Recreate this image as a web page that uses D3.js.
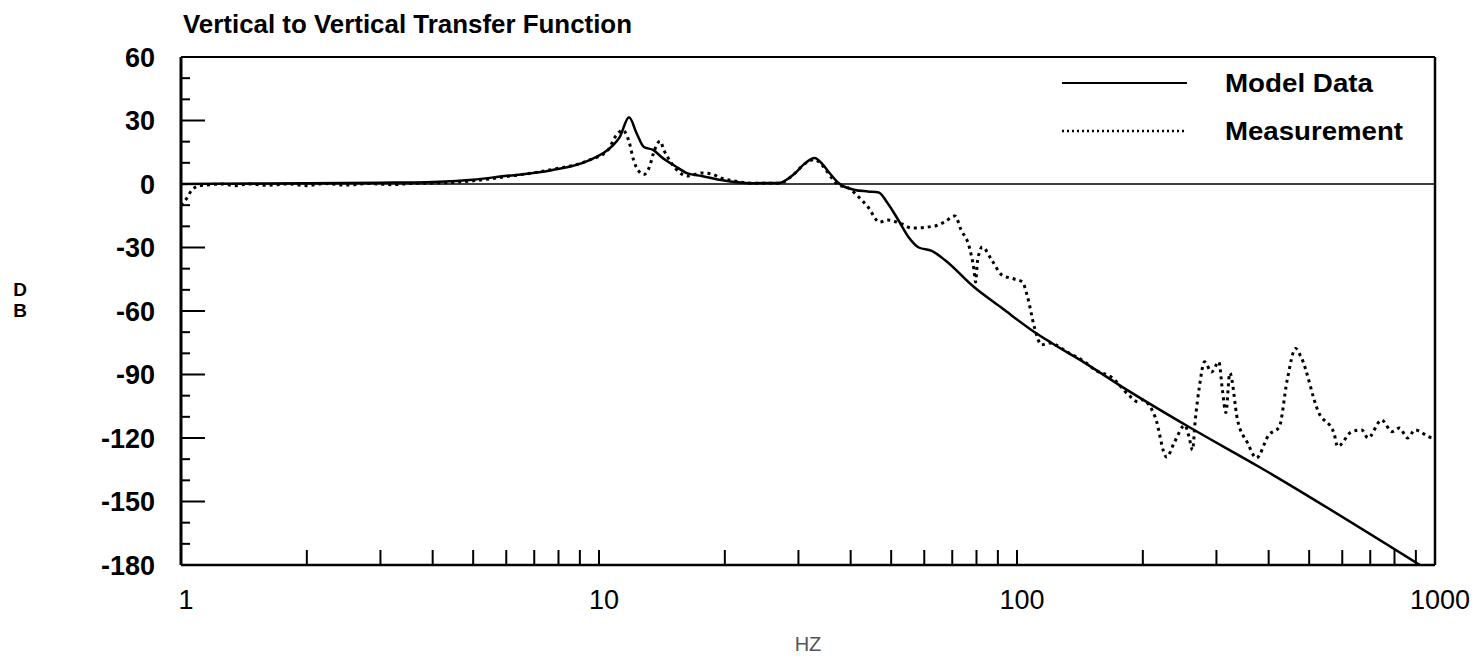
<html>
    <head>
        <meta charset="utf-8">
        <title>Vertical to Vertical Transfer Function</title>
        <script src="https://d3js.org/d3.v7.min.js"></script>
        <style>
            body { margin: 0; background: #fff; }
            text { font-family: "Liberation Sans", Arial, Helvetica, sans-serif; fill: #000; }
        </style>
    </head>
    <body>
        <div id="chart"></div>
        <script>
            // Model data (Hz, dB)
            const modelHz = [1, 1.5, 2, 3, 4, 5, 5.8, 7.7, 9.4, 10.7, 11.2, 11.8, 12.3, 12.8, 13.5, 14.1, 15.2, 16.3, 17.6, 19.6,
                             23.2, 26.9, 29.4, 31, 32.8, 34.2, 35.6, 37.4, 40.9, 44, 46.7, 49, 52, 55, 58.2, 62.5, 67.2,
                             78.9, 92, 110, 121, 145.6, 175.7, 258, 380, 920];
            const modelDb = [0, 0.2, 0.3, 0.6, 1.0, 2.0, 3.5, 6.5, 10.9, 17.5, 22, 31.5, 24, 17.5, 16, 12.8, 8.5, 5, 3.8, 1.9,
                             0.4, 0.5, 5, 9.5, 12.3, 9.5, 5.2, 0.5, -2.8, -3.5, -4, -9, -17, -25, -30, -31.6, -35.9,
                             -48.7, -58.6, -69.9, -75.1, -84.6, -95, -114.8, -133.7, -180];

            // Measurement (Hz, dB)
            const measHz = [1.0, 1.03, 1.06, 1.1, 1.15, 1.25, 1.35, 1.45, 1.6, 1.8, 2.0, 2.2, 2.5, 2.8, 3.2, 3.6, 4.2, 5, 6, 7.7,
                            9.4, 10.5, 11.0, 11.4, 11.8, 12.1, 12.6, 12.8, 13.2, 13.5, 14.0, 14.3, 14.9, 16.3, 17.6, 18.6, 19.6, 21.1,
                            23.5, 27, 29.4, 31, 32.8, 34.5, 36, 37.4, 39.5, 40.9, 42.5, 44, 46.9, 49, 53, 56, 63.7, 67, 71, 73.5,
                            76.9, 78.9, 79.6, 80.5, 82.6, 87, 92, 98.5, 103, 106, 110, 114.5, 119.5, 133, 143, 154, 169, 185, 195,
                            199, 214, 228, 238, 252, 258, 263, 267, 273, 281, 292, 304, 310, 316, 323, 337, 356, 374, 400, 424, 443,
                            464, 478, 527, 573, 585, 632, 668, 691, 745, 789, 822, 860, 895, 990, 1000];
            const measDb = [-10, -7, -3, -1, -0.5, 0, -0.8, 0, -0.6, 0, -0.8, 0.2, -0.5, 0.2, -0.3, 0.3, 0.5, 1.5, 3.5, 6.8,
                            11, 16, 23, 25.5, 20, 11.3, 5, 4.5, 8, 14.6, 20.3, 16, 9.9, 3.8, 5.2, 4.7, 2.8, 1.4,
                            0.3, 0.3, 5, 9.5, 11.5, 8, 3, -0.5, -1.9, -4.3, -7.6, -10.9, -18, -17, -18.9, -20.8, -19.8, -18, -15.1, -21.7,
                            -29.8, -40.6, -46.3, -36, -29.8, -35.9, -43, -44.9, -46.3, -53.4, -67.5, -76, -75.1, -79.8, -83.1, -87.9, -91.6, -99.7, -103,
                            -102, -110, -129, -122, -114, -119.5, -125.7, -111.5, -96, -84, -88.8, -84, -97.3, -108, -89.3, -111.5, -122.3, -129.4, -118.6, -114.8, -92.6,
                            -77.7, -81.7, -108, -117.6, -124, -117, -116.2, -120, -111.5, -117, -115.3, -120, -116.2, -120, -120];

            const xTickLabels = [1, 10, 100, 1000];
            const yTickLabels = [60, 30, 0, -30, -60, -90, -120, -150, -180];
            const seriesNames = ["Model Data", "Measurement"];

            const model = modelHz.map((f, i) => ({ f: f, db: modelDb[i] }));
            const meas = measHz.map((f, i) => ({ f: f, db: measDb[i] }));

            // Taille et zone du graphique
            const W = 1478, H = 657;
            const plot = { left: 181, right: 1435, top: 57, bottom: 565 };

            const svg = d3.select("#chart").append("svg")
                .attr("width", W)
                .attr("height", H);

            const x = d3.scaleLog().domain([1, 1000]).range([plot.left, plot.right]);
            const y = d3.scaleLinear().domain([-180, 60]).range([plot.bottom, plot.top]);

            svg.append("clipPath").attr("id", "clip")
                .append("rect")
                .attr("x", plot.left).attr("y", plot.top)
                .attr("width", plot.right - plot.left).attr("height", plot.bottom - plot.top);

            // Titre
            svg.append("text")
                .attr("x", 183).attr("y", 33)
                .attr("font-size", 25).attr("font-weight", "bold")
                .attr("textLength", 449).attr("lengthAdjust", "spacingAndGlyphs")
                .text("Vertical to Vertical Transfer Function");

            // Ligne du zero
            svg.append("line")
                .attr("x1", plot.left).attr("x2", plot.right)
                .attr("y1", y(0)).attr("y2", y(0))
                .attr("stroke", "#000").attr("stroke-width", 1.5);

            // Ticks de l'axe y (tous les 10, plus longs tous les 30)
            const yTicks = d3.range(-170, 60, 10);
            svg.append("g").selectAll("line")
                .data(yTicks)
                .enter().append("line")
                .attr("x1", plot.left)
                .attr("x2", d => plot.left + (d % 30 === 0 ? 24 : 9))
                .attr("y1", d => y(d)).attr("y2", d => y(d))
                .attr("stroke", "#000").attr("stroke-width", 2);

            // Ticks de l'axe x (log)
            const xTicks = x.ticks().filter(d => d > 1 && d < 1000);
            svg.append("g").selectAll("line")
                .data(xTicks)
                .enter().append("line")
                .attr("x1", d => x(d)).attr("x2", d => x(d))
                .attr("y1", plot.bottom).attr("y2", plot.bottom - 15)
                .attr("stroke", "#000").attr("stroke-width", 2);

            // Labels des axes
            svg.append("g").selectAll("text")
                .data(yTickLabels)
                .enter().append("text")
                .attr("x", 155).attr("y", d => y(d))
                .attr("dy", "0.36em")
                .attr("text-anchor", "end")
                .attr("font-size", 27).attr("font-weight", "bold")
                .text(d => d);

            svg.append("g").selectAll("text")
                .data(xTickLabels)
                .enter().append("text")
                .attr("x", d => x(d) + 5).attr("y", 609)
                .attr("text-anchor", "middle")
                .attr("font-size", 27)
                .text(d => d);

            svg.append("text")
                .attr("x", 808).attr("y", 651)
                .attr("text-anchor", "middle")
                .attr("font-size", 20)
                .attr("font-family", "'Liberation Sans Narrow', 'DejaVu Sans Condensed', sans-serif")
                .style("fill", "#555")
                .text("HZ");

            svg.append("text").attr("x", 20).attr("y", 296)
                .attr("text-anchor", "middle").attr("font-size", 19).attr("font-weight", "bold").text("D");
            svg.append("text").attr("x", 20).attr("y", 317)
                .attr("text-anchor", "middle").attr("font-size", 19).attr("font-weight", "bold").text("B");

            // Courbes
            const line = d3.line()
                .x(d => x(d.f))
                .y(d => y(d.db))
                .curve(d3.curveMonotoneX);

            const lines = svg.append("g").attr("clip-path", "url(#clip)");
            lines.append("path")
                .datum(meas)
                .attr("d", line)
                .attr("fill", "none")
                .attr("stroke", "#000")
                .attr("stroke-width", 3)
                .attr("stroke-dasharray", "3,4");
            lines.append("path")
                .datum(model)
                .attr("d", line)
                .attr("fill", "none")
                .attr("stroke", "#000")
                .attr("stroke-width", 2.5);

            // Cadre
            svg.append("line").attr("x1", plot.left).attr("x2", plot.right).attr("y1", plot.top).attr("y2", plot.top)
                .attr("stroke", "#000").attr("stroke-width", 2);
            svg.append("line").attr("x1", plot.left).attr("x2", plot.right).attr("y1", plot.bottom).attr("y2", plot.bottom)
                .attr("stroke", "#000").attr("stroke-width", 2.5);
            svg.append("line").attr("x1", plot.left).attr("x2", plot.left).attr("y1", plot.top).attr("y2", plot.bottom)
                .attr("stroke", "#000").attr("stroke-width", 3);
            svg.append("line").attr("x1", plot.right).attr("x2", plot.right).attr("y1", plot.top).attr("y2", plot.bottom)
                .attr("stroke", "#000").attr("stroke-width", 2.5);

            // Legende
            const legendWidths = [148, 178];
            const legend = svg.append("g");
            legend.selectAll("line")
                .data(seriesNames)
                .enter().append("line")
                .attr("x1", 1062).attr("x2", 1187)
                .attr("y1", (d, i) => 83 + i * 48).attr("y2", (d, i) => 83 + i * 48)
                .attr("stroke", "#000")
                .attr("stroke-width", (d, i) => i === 0 ? 2 : 2.5)
                .attr("stroke-dasharray", (d, i) => i === 0 ? null : "2,3");
            legend.selectAll("text")
                .data(seriesNames)
                .enter().append("text")
                .attr("x", 1225)
                .attr("y", (d, i) => 92 + i * 48)
                .attr("font-size", 25).attr("font-weight", "bold")
                .attr("textLength", (d, i) => legendWidths[i])
                .attr("lengthAdjust", "spacingAndGlyphs")
                .text(d => d);
        </script>
    </body>
</html>
